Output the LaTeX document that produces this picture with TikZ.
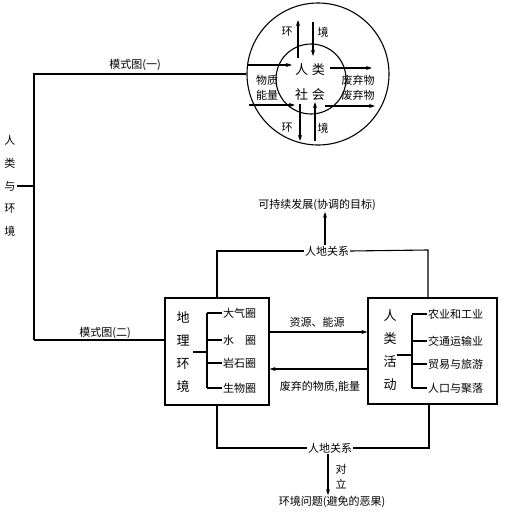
\documentclass[tikz,border=0pt]{standalone}
\usepackage{fontspec}
\setmainfont{Noto Sans CJK SC}
\usetikzlibrary{arrows.meta,calc}
\begin{document}
\begin{tikzpicture}[x=1pt,y=-1pt]
\tikzset{
 ln/.style={line width=1.1pt},
 arr/.style={ln,-{Stealth[length=6pt,width=4pt]}},
 txt/.style={font=\fontsize{11}{13}\selectfont, inner sep=1pt},
 big/.style={font=\fontsize{13}{23}\selectfont, inner sep=1pt, align=center},
 boxn/.style={draw, ln, inner sep=0pt},
}
\useasboundingbox (0,0) rectangle (504,514);

% ---- model 1: circles
\node[circle,draw,ln,minimum size=142pt,inner sep=0pt] (outer) at (318,74) {};
\node[circle,draw,ln,minimum size=70pt,inner sep=0pt] (inner) at (311,79) {};
\node[font=\fontsize{13}{15}\selectfont,inner sep=1pt] (rl1) at (310,70) {人\hspace{4pt}类};
\node[font=\fontsize{13}{15}\selectfont,inner sep=1pt] (rl2) at (310,95) {社\hspace{4pt}会};
% top
\node[txt] (th) at (287,32) {环};
\node[txt] (tj) at (323,32) {境};
\coordinate (tu1) at (298,58); \coordinate (tu2) at (298,20);
\coordinate (td1) at (313,22); \coordinate (td2) at (313,56);
\draw[arr] (tu1) -- (tu2);
\draw[arr] (td1) -- (td2);
% bottom
\node[txt] (bh) at (287,128) {环};
\node[txt] (bj) at (323,128) {境};
\coordinate (bd1) at (300,104); \coordinate (bd2) at (300,141);
\coordinate (bu1) at (315,141); \coordinate (bu2) at (315,102);
\draw[arr] (bd1) -- (bd2);
\draw[arr] (bu1) -- (bu2);
% left
\node[txt] (wz) at (267,80) {物质};
\node[txt] (nl) at (267,95) {能量};
\coordinate (l1a) at (248,65); \coordinate (l1b) at (292,65);
\coordinate (l2a) at (249,105); \coordinate (l2b) at (295,105);
\draw[arr] (l1a) -- (l1b);
\draw[arr] (l2a) -- (l2b);
% right
\node[txt] (fq1) at (358,80) {废弃物};
\node[txt] (fq2) at (358,95) {废弃物};
\coordinate (r1a) at (330,68); \coordinate (r1b) at (372,68);
\coordinate (r2a) at (325,106); \coordinate (r2b) at (375,106);
\draw[arr] (r1a) -- (r1b);
\draw[arr] (r2a) -- (r2b);

% ---- tree on the left
\node[txt] (m1) at (135,65) {模式图(一)};
\node[txt] (m2) at (105,333) {模式图(二)};
\coordinate (j1) at (34,74);
\coordinate (j2) at (34,340);
\node[font=\fontsize{11}{22.8}\selectfont,inner sep=1pt,align=center] (root) at (10,186) {人\\类\\与\\环\\境};
\draw[ln] (outer.west) -- (j1) -- (j2);
\draw[ln] (root.east) -- (root.east -| j1);

% ---- model 2 boxes
\node[boxn,minimum width=104pt,minimum height=107pt] (geo) at (217,351.5) {};
\node[boxn,minimum width=129pt,minimum height=106pt] (act) at (432.5,351) {};
\draw[ln] (j2) -- (j2 -| geo.west);

\node[big] (geot) at (183,352.5) {地\\理\\环\\境};
\node[big] (actt) at (390,350.5) {人\\类\\活\\动};

% left bracket
\coordinate (gs) at (193,352);
\coordinate (gm) at (207,352);
\coordinate (gt) at (207,313);
\coordinate (gb) at (207,388);
\node[txt,anchor=west] (g1) at (222,313) {大气圈};
\node[txt,anchor=west] (g2) at (222,340) {水　圈};
\node[txt,anchor=west] (g3) at (222,363) {岩石圈};
\node[txt,anchor=west] (g4) at (222,388) {生物圈};
\draw[ln] (gs) -- (gm);
\draw[ln] (gt) -- (gb);
\foreach \n in {g1,g2,g3,g4} \draw[ln] (\n.west -| gm) -- (\n.west);

% right bracket
\coordinate (as) at (397,355);
\coordinate (am) at (412,355);
\coordinate (at1) at (412,315);
\coordinate (ab) at (412,388);
\node[txt,anchor=west] (a1) at (427,314) {农业和工业};
\node[txt,anchor=west] (a2) at (427,341) {交通运输业};
\node[txt,anchor=west] (a3) at (427,364) {贸易与旅游};
\node[txt,anchor=west] (a4) at (427,388) {人口与聚落};
\draw[ln] (as) -- (am);
\draw[ln] (at1) -- (ab);
\foreach \n in {a1,a2,a3,a4} \draw[ln] (\n.west -| am) -- (\n.west);

% arrows between boxes
\coordinate (y1) at (300,332);
\coordinate (y2) at (300,369);
\draw[arr] (geo.east |- y1) -- (act.west |- y1);
\draw[arr] (act.west |- y2) -- (geo.east |- y2);
\node[txt] (zy) at (317,322) {资源、能源};
\node[txt] (fw) at (320,387) {废弃的物质,能量};

% top loop
\node[txt] (rel1) at (327,251) {人地关系};
\node[txt] (goal) at (317,205) {可持续发展(协调的目标)};
\coordinate (tr) at (428,250);
\coordinate (trb) at (428,298);
\draw[ln] (rel1.west) -- (rel1.west -| geo.north) -- (geo.north);
\draw[ln] (rel1.east) -- (tr) -- (trb);
\draw[arr] (rel1.north -| 325,0) -- (goal.south -| 325,0);

% bottom loop
\node[txt] (rel2) at (330,448) {人地关系};
\node[txt] (prob) at (332,502) {环境问题(避免的恶果)};
\node[font=\fontsize{11}{15}\selectfont,inner sep=1pt,align=center] (dl) at (341,477) {对\\立};
\coordinate (br) at (429,448);
\coordinate (brt) at (429,404);
\draw[ln] (rel2.west) -- (rel2.west -| geo.south) -- (geo.south);
\draw[ln] (rel2.east) -- (br) -- (brt);
\draw[arr] (rel2.south -| 328,0) -- (prob.north -| 328,0);
\end{tikzpicture}
\end{document}
